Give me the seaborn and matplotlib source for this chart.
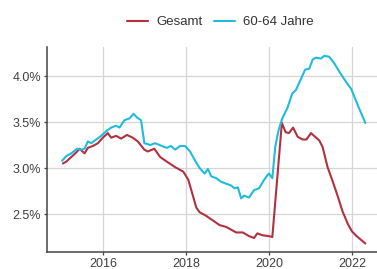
import matplotlib
matplotlib.use("Agg")
import matplotlib.pyplot as plt
from matplotlib.ticker import FuncFormatter
import numpy as np
import pandas as pd
import seaborn as sns

# ---- data (fractional years, percent) ----
gesamt_t = [2015.04, 2015.12, 2015.24, 2015.36, 2015.44, 2015.56, 2015.64, 2015.76, 2015.88,
            2016.00, 2016.12, 2016.20, 2016.32, 2016.44, 2016.58, 2016.72, 2016.84, 2017.00,
            2017.08, 2017.24, 2017.38, 2017.54, 2017.74, 2017.94, 2018.06, 2018.13, 2018.25,
            2018.33, 2018.49, 2018.65, 2018.81, 2018.97, 2019.09, 2019.21, 2019.37, 2019.52,
            2019.64, 2019.72, 2019.84, 2020.00, 2020.08, 2020.31, 2020.40, 2020.48, 2020.58,
            2020.69, 2020.81, 2020.90, 2021.01, 2021.11, 2021.21, 2021.29, 2021.41, 2021.53,
            2021.65, 2021.77, 2021.90, 2022.00, 2022.11, 2022.32]
gesamt_v = [3.05, 3.07, 3.12, 3.17, 3.21, 3.16, 3.22, 3.24, 3.27,
            3.33, 3.38, 3.33, 3.35, 3.32, 3.36, 3.33, 3.29, 3.20,
            3.18, 3.21, 3.12, 3.07, 3.01, 2.96, 2.87, 2.76, 2.57,
            2.52, 2.48, 2.43, 2.38, 2.36, 2.33, 2.30, 2.30, 2.26,
            2.24, 2.29, 2.27, 2.26, 2.25, 3.49, 3.39, 3.38, 3.44,
            3.34, 3.31, 3.31, 3.38, 3.34, 3.30, 3.23, 3.01, 2.86,
            2.70, 2.53, 2.39, 2.31, 2.26, 2.18]

jahre_t = [2015.02, 2015.12, 2015.24, 2015.38, 2015.48, 2015.56, 2015.64, 2015.72, 2015.84,
           2015.96, 2016.08, 2016.20, 2016.32, 2016.40, 2016.52, 2016.64, 2016.74, 2016.82,
           2016.92, 2017.00, 2017.08, 2017.14, 2017.26, 2017.42, 2017.54, 2017.64, 2017.74,
           2017.86, 2017.98, 2018.10, 2018.21, 2018.33, 2018.45, 2018.53, 2018.61, 2018.73,
           2018.85, 2018.97, 2019.09, 2019.17, 2019.25, 2019.33, 2019.40, 2019.52, 2019.64,
           2019.76, 2019.88, 2019.96, 2020.00, 2020.08, 2020.15, 2020.23, 2020.32, 2020.44,
           2020.56, 2020.65, 2020.77, 2020.87, 2020.97, 2021.05, 2021.13, 2021.25, 2021.33,
           2021.45, 2021.57, 2021.69, 2021.85, 2021.98, 2022.14, 2022.32]
jahre_v = [3.08, 3.13, 3.16, 3.21, 3.20, 3.21, 3.29, 3.27, 3.31,
           3.35, 3.40, 3.44, 3.46, 3.44, 3.52, 3.54, 3.59, 3.55,
           3.52, 3.27, 3.26, 3.25, 3.27, 3.24, 3.22, 3.24, 3.20,
           3.24, 3.24, 3.18, 3.09, 3.00, 2.94, 2.99, 2.91, 2.89,
           2.85, 2.83, 2.81, 2.78, 2.79, 2.67, 2.70, 2.68, 2.76,
           2.78, 2.87, 2.92, 2.94, 2.89, 3.23, 3.41, 3.54, 3.65,
           3.81, 3.85, 3.97, 4.07, 4.08, 4.18, 4.20, 4.19, 4.22,
           4.21, 4.14, 4.05, 3.94, 3.86, 3.68, 3.49]

series_names = ["Gesamt", "60-64 Jahre"]
x_ticks = [2016, 2018, 2020, 2022]
y_ticks = [2.5, 3.0, 3.5, 4.0]

df = pd.concat([
    pd.DataFrame({"t": gesamt_t, "v": gesamt_v, "serie": series_names[0]}),
    pd.DataFrame({"t": jahre_t, "v": jahre_v, "serie": series_names[1]}),
], ignore_index=True)

sns.set_theme(style="whitegrid")
plt.rcParams["font.family"] = ["Liberation Sans", "DejaVu Sans"]

fig = plt.figure(figsize=(3.77, 2.69), dpi=100)
ax = fig.add_axes([0.124, 0.063, 0.876, 0.762])

palette = {"Gesamt": "#B3303E", "60-64 Jahre": "#1FBCDB"}
sns.lineplot(data=df, x="t", y="v", hue="serie", palette=palette, ax=ax,
             linewidth=1.5, sort=False, estimator=None, legend=True)

ax.set_xlim(2014.65, 2022.6)
ax.set_ylim(2.087, 4.315)
ax.set_xticks(x_ticks)
ax.set_yticks(y_ticks)
ax.xaxis.set_major_formatter(FuncFormatter(lambda v, p: f"{int(round(v))}"))
ax.yaxis.set_major_formatter(FuncFormatter(lambda v, p: f"{v:.1f}%"))
ax.set_xlabel("")
ax.set_ylabel("")

ax.grid(True, color="#D6D6D6", linewidth=0.9)
for s in ["top", "right"]:
    ax.spines[s].set_visible(False)
for s in ["left", "bottom"]:
    ax.spines[s].set_visible(True)
    ax.spines[s].set_color("#444444")
    ax.spines[s].set_linewidth(1.1)
ax.tick_params(axis="both", which="major", length=2.5, width=0.9, color="#444444",
               labelsize=9, labelcolor="#404040", pad=1.5)
ax.tick_params(axis="x", bottom=True)
ax.tick_params(axis="y", left=True)
ax.set_facecolor("white")
fig.patch.set_facecolor("white")

handles, labels = ax.get_legend_handles_labels()
ax.legend_.remove()
fig.legend(handles, labels, loc="center", bbox_to_anchor=(0.585, 0.918), ncol=2,
           frameon=False, fontsize=9.5, handlelength=1.6, handletextpad=0.6,
           columnspacing=0.9, labelcolor="#333333")

fig.savefig("out.png", dpi=100, facecolor="white")
